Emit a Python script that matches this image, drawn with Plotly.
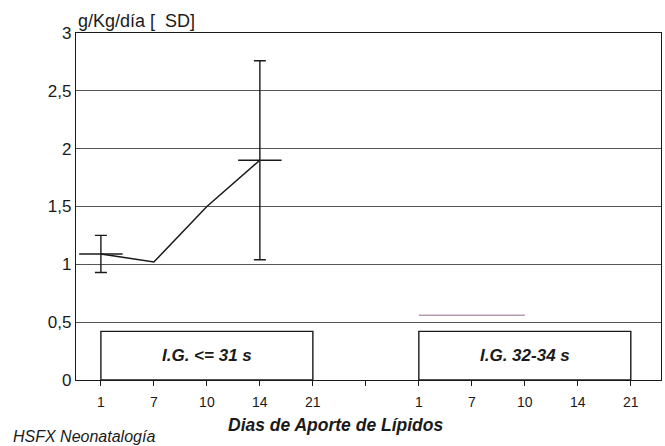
import plotly.graph_objects as go

# ---- data ----
days = ["1", "7", "10", "14", "21"]
groups = ["I.G. <= 31 s", "I.G. 32-34 s"]
g1_mean = [1.09, 1.02, 1.50, 1.90, None]
g1_sd = [0.16, None, None, 0.86, None]
g2_mean = [0.56, 0.56, 0.56, None, None]
y_ticks = [0, 0.5, 1, 1.5, 2, 2.5, 3]
y_ticktext = ["0", "0,5", "1", "1,5", "2", "2,5", "3"]

# categorical positions: group 1, a blank slot, group 2
n = len(days)
g1_x = list(range(n))
g2_x = [n + 1 + i for i in range(n)]
tickvals = g1_x + [n] + g2_x
ticktext = days + [""] + days

FONT = "Liberation Sans, Arial, sans-serif"
INK = "#1a1a1a"

fig = go.Figure()

# group 1 connecting line
fig.add_trace(go.Scatter(
    x=g1_x, y=g1_mean, mode="lines",
    line=dict(color=INK, width=1.5),
    connectgaps=False, showlegend=False, hoverinfo="skip"))

# group 1 SD bars with mean tick
sd_x = [x for x, s in zip(g1_x, g1_sd) if s is not None]
sd_m = [m for m, s in zip(g1_mean, g1_sd) if s is not None]
sd_v = [s for s in g1_sd if s is not None]
fig.add_trace(go.Scatter(
    x=sd_x, y=sd_m, mode="markers",
    marker=dict(symbol="line-ew", size=31, line=dict(color=INK, width=1.5)),
    error_y=dict(type="data", array=sd_v, visible=True, color=INK,
                 thickness=1.4, width=6),
    showlegend=False))

# group 2 faint line
fig.add_trace(go.Scatter(
    x=g2_x, y=g2_mean, mode="lines",
    line=dict(color="#b59ab0", width=1.6),
    showlegend=False, hoverinfo="skip"))

# group boxes + labels
box_top = 0.42
for label, xs in zip(groups, [g1_x, g2_x]):
    fig.add_shape(type="rect", xref="x", yref="y",
                  x0=xs[0], x1=xs[-1], y0=0, y1=box_top,
                  line=dict(color=INK, width=1.4), fillcolor="rgba(0,0,0,0)")
    fig.add_annotation(x=(xs[0] + xs[-1]) / 2, y=box_top / 2, xref="x", yref="y",
                       text="<b><i>" + label + "</i></b>", showarrow=False,
                       font=dict(family=FONT, size=17, color=INK))

# y title
fig.add_annotation(x=0, y=1, xref="paper", yref="paper", xanchor="left", yanchor="bottom",
                   text="g/Kg/día [  SD]", showarrow=False, yshift=0,
                   font=dict(family=FONT, size=18, color=INK))
# x title
fig.add_annotation(x=0.443, y=-0.130, xref="paper", yref="paper", xanchor="center", yanchor="middle",
                   text="<b><i>Dias de Aporte de Lípidos</i></b>", showarrow=False,
                   font=dict(family=FONT, size=17.5, color=INK))
# source
fig.add_annotation(x=-0.111, y=-0.164, xref="paper", yref="paper", xanchor="left", yanchor="middle",
                   showarrow=False, text="<i>HSFX Neonatalogía</i>",
                   font=dict(family=FONT, size=16, color=INK))

fig.update_layout(
    width=665, height=446,
    margin=dict(l=76, r=4, t=33, b=66),
    paper_bgcolor="white", plot_bgcolor="white",
    font=dict(family=FONT, color=INK),
    xaxis=dict(range=[-0.47, 10.57], tickvals=tickvals, ticktext=ticktext,
               showgrid=False, zeroline=False, showline=True, mirror=True,
               linecolor=INK, linewidth=1.4, ticks="outside", ticklen=5,
               tickcolor=INK, tickfont=dict(size=14), ticklabelstandoff=4),
    yaxis=dict(range=[0, 3], tickvals=y_ticks, ticktext=y_ticktext,
               showgrid=True, gridcolor="#555555", gridwidth=1, zeroline=False,
               showline=True, mirror=True, linecolor=INK, linewidth=1.4,
               ticks="", tickfont=dict(size=17)),
)

fig.write_html("out.html", config={"displayModeBar": False},
               post_script="document.body.style.margin='0';document.body.style.overflow='hidden';")
